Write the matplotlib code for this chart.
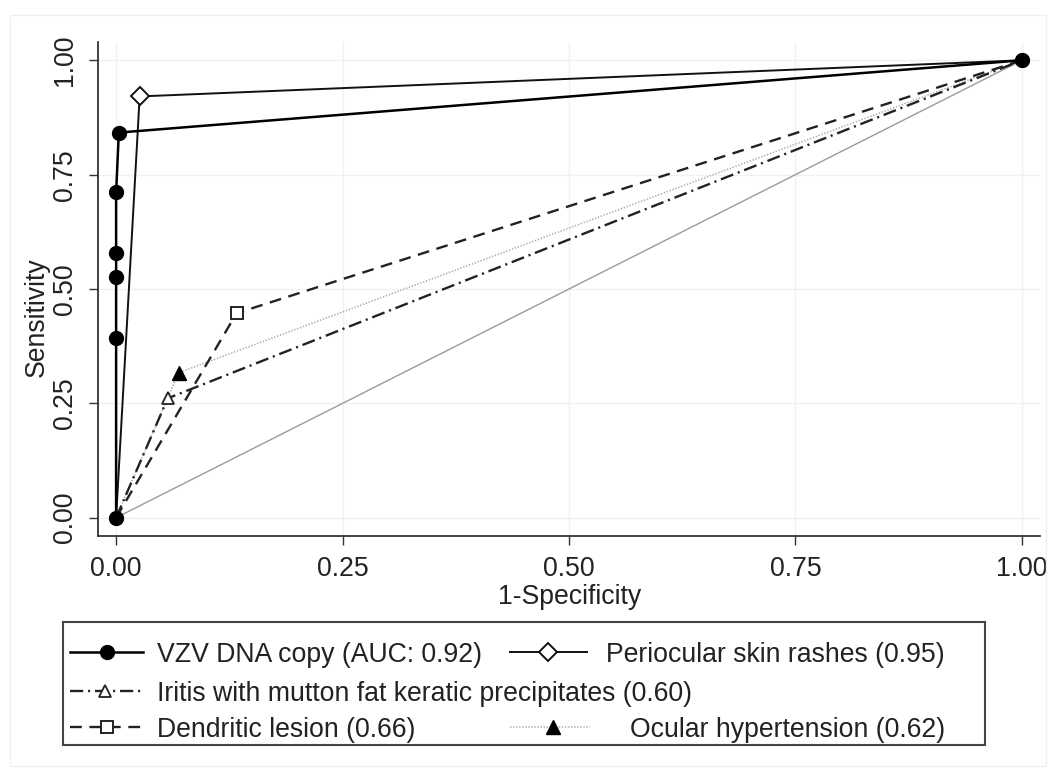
import numpy as np
import matplotlib
matplotlib.use("Agg")
import matplotlib.pyplot as plt
from matplotlib.patches import Rectangle

plt.rcParams['font.family'] = ['Liberation Sans', 'DejaVu Sans']
plt.rcParams['lines.scale_dashes'] = False

# ROC points (1-specificity, sensitivity)
vzv_fpr = [0, 0, 0, 0, 0, 0.003, 1]
vzv_tpr = [0, 0.393, 0.526, 0.578, 0.711, 0.842, 1]
peri_fpr = [0, 0.026, 1]
peri_tpr = [0, 0.921, 1]
iritis_fpr = [0, 0.057, 1]
iritis_tpr = [0, 0.261, 1]
dend_fpr = [0, 0.133, 1]
dend_tpr = [0, 0.447, 1]
ocular_fpr = [0, 0.069, 1]
ocular_tpr = [0, 0.317, 1]
ref_line = [0, 1]

labels = ["VZV DNA copy (AUC: 0.92)", "Periocular skin rashes (0.95)",
          "Iritis with mutton fat keratic precipitates (0.60)",
          "Dendritic lesion (0.66)", "Ocular hypertension (0.62)"]
ticks = [0, 0.25, 0.5, 0.75, 1.0]
tick_labels = ["0.00", "0.25", "0.50", "0.75", "1.00"]

FS = 19.2
W, H = 1056, 776
fig = plt.figure(figsize=(W / 100, H / 100), dpi=100)
fig.patch.set_facecolor('white')

ax = fig.add_axes([98 / W, 1 - 536 / H, (1040 - 98) / W, (536 - 42) / H])
ax.set_xlim(-0.02, 1.02)
ax.set_ylim(-0.04, 1.04)
for s in ['top', 'right']:
    ax.spines[s].set_visible(False)
for s in ['left', 'bottom']:
    ax.spines[s].set_color('#333333')
    ax.spines[s].set_linewidth(1.3)
ax.set_xticks(ticks)
ax.set_xticklabels(tick_labels)
ax.set_yticks(ticks)
ax.set_yticklabels(tick_labels)
ax.tick_params(length=6.5, width=1.0, color='#333333', labelsize=FS,
               labelcolor='#222222', pad=8)
plt.setp(ax.get_yticklabels(), rotation=90, va='center', ha='right')
ax.grid(True, color='#f1f1f1', linewidth=1.0)
ax.set_axisbelow(True)

styles = {
    'diag': dict(color='#9a9a9a', lw=1.0, ls='-'),
    'vzv': dict(color='black', lw=1.8, ls='-', marker='o', ms=10,
                mfc='black', mec='black'),
    'peri': dict(color='#111111', lw=1.4, ls='-', marker='D', ms=9,
                 mfc='white', mec='#111111', mew=1.4),
    'iritis': dict(color='#222222', lw=1.7, ls=(0, (9.5, 3.5, 1.5, 3.5)),
                   marker='^', ms=9, mfc='white', mec='#222222', mew=1.3),
    'dend': dict(color='#222222', lw=1.7, ls=(0, (8.5, 5.5)),
                 marker='s', ms=9, mfc='white', mec='#222222', mew=1.4),
    'ocular': dict(color='#aaaaaa', lw=1.1, ls=(0, (1, 1.2)),
                   marker='^', ms=10, mfc='black', mec='black'),
}

ax.plot(ref_line, ref_line, zorder=2, **styles['diag'])
ax.plot(ocular_fpr, ocular_tpr, markevery=[1], zorder=3, **styles['ocular'])
ax.plot(iritis_fpr, iritis_tpr, markevery=[1], zorder=4, **styles['iritis'])
ax.plot(dend_fpr, dend_tpr, markevery=[1], zorder=4, **styles['dend'])
ax.plot(peri_fpr, peri_tpr, markevery=[1], zorder=5, **styles['peri'])
ax.plot(vzv_fpr, vzv_tpr, zorder=6, **styles['vzv'])

fig.text(570 / W, 1 - 597 / H, "1-Specificity", ha='center', va='center',
         fontsize=FS, color='#222222')
fig.text(37 / W, 1 - 317 / H, "Sensitivity", ha='center', va='center',
         rotation=90, fontsize=FS, color='#222222')

# legend drawn in pixel coordinates on an overlay
lg = fig.add_axes([0, 0, 1, 1], facecolor='none')
lg.set_xlim(0, W)
lg.set_ylim(H, 0)
lg.axis('off')
lg.add_patch(Rectangle((10, 15), 1036, 751, fill=False, ec='#f0f0f0', lw=1))
lg.add_patch(Rectangle((63, 622), 922, 123, fill=False, ec='#444444', lw=1.5))

rows = [652, 691, 727]
entries = [
    ('vzv', 70, 143, 107, rows[0], 157, 'left'),
    ('peri', 510, 587, 548, rows[0], 945, 'right'),
    ('iritis', 70, 143, 105, rows[1], 157, 'left'),
    ('dend', 70, 143, 107, rows[2], 157, 'left'),
    ('ocular', 510, 590, 553, rows[2], 945, 'right'),
]
order = ['vzv', 'peri', 'iritis', 'dend', 'ocular']
for key, x0, x1, xm, y, tx, ha in entries:
    st = dict(styles[key])
    marker = {k: st.pop(k) for k in ['marker', 'ms', 'mfc', 'mec', 'mew'] if k in st}
    lg.plot([x0, x1], [y, y], **st)
    lg.plot([xm], [y], ls='none', **marker)
    lg.text(tx, y + 3, labels[order.index(key)], ha=ha, va='center',
            fontsize=FS, color='#222222')

fig.savefig("out.png", dpi=100)
